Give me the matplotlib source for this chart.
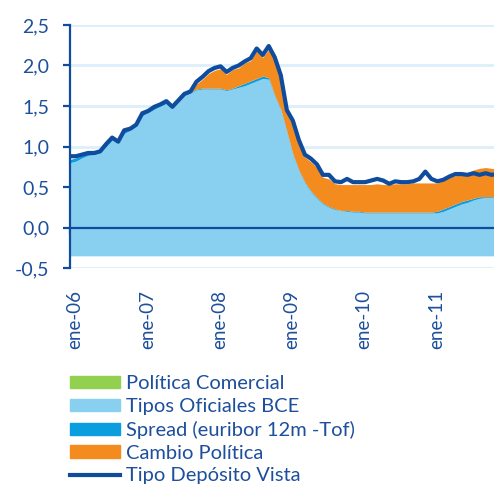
import matplotlib
matplotlib.use("Agg")
import matplotlib.pyplot as plt
import matplotlib.transforms as mtransforms
from matplotlib.patches import Patch
from matplotlib.lines import Line2D
import numpy as np

# monthly data, ene-06 .. dic-11
politica_comercial = -0.35

# level of the Tipos Oficiales BCE area
tipos_bce = [0.80, 0.82, 0.86, 0.89, 0.90, 0.92, 1.00, 1.08, 1.05, 1.16, 1.20, 1.25,
             1.38, 1.42, 1.46, 1.50, 1.53, 1.48, 1.55, 1.63, 1.66, 1.70, 1.71, 1.71,
             1.71, 1.71, 1.69, 1.71, 1.73, 1.75, 1.78, 1.81, 1.84, 1.83, 1.62, 1.45,
             1.18, 0.90, 0.70, 0.55, 0.44, 0.36, 0.29, 0.25, 0.22, 0.21, 0.20, 0.19,
             0.19, 0.18, 0.18, 0.18, 0.18, 0.18, 0.18, 0.18, 0.18, 0.18, 0.18, 0.18,
             0.18, 0.18, 0.20, 0.23, 0.26, 0.29, 0.31, 0.34, 0.36, 0.37, 0.37, 0.36]

spread = [0.04, 0.04, 0.03, 0.02, 0.02, 0.02, 0.02, 0.02, 0.02, 0.02, 0.02, 0.02,
          0.02, 0.02, 0.02, 0.02, 0.02, 0.02, 0.02, 0.02, 0.01, 0.01, 0.01, 0.01,
          0.01, 0.01, 0.01, 0.01, 0.02, 0.03, 0.03, 0.03, 0.03, 0.02, 0.01, 0.01,
          0.01, 0.01, 0.01, 0.01, 0.01, 0.01, 0.01, 0.01, 0.01, 0.00, 0.01, 0.01,
          0.01, 0.01, 0.01, 0.01, 0.01, 0.01, 0.01, 0.01, 0.01, 0.01, 0.01, 0.01,
          0.01, 0.02, 0.03, 0.03, 0.03, 0.03, 0.03, 0.02, 0.02, 0.01, 0.01, 0.01]

cambio_politica = [0.0, 0.0, 0.0, 0.0, 0.0, 0.0, 0.0, 0.0, 0.0, 0.0, 0.0, 0.0,
                   0.0, 0.0, 0.0, 0.0, 0.0, 0.0, 0.0, 0.0, 0.01, 0.06, 0.11, 0.18,
                   0.22, 0.24, 0.19, 0.23, 0.22, 0.25, 0.25, 0.34, 0.23, 0.35, 0.43, 0.38,
                   0.22, 0.37, 0.33, 0.31, 0.36, 0.37, 0.32, 0.34, 0.31, 0.32, 0.32, 0.33,
                   0.33, 0.34, 0.34, 0.35, 0.34, 0.34, 0.35, 0.35, 0.35, 0.36, 0.36, 0.36,
                   0.36, 0.35, 0.35, 0.36, 0.35, 0.33, 0.34, 0.35, 0.35, 0.36, 0.35, 0.35]

tipo_deposito = [0.88, 0.88, 0.90, 0.92, 0.92, 0.94, 1.03, 1.11, 1.06, 1.20, 1.22, 1.27,
                 1.41, 1.44, 1.49, 1.52, 1.56, 1.49, 1.57, 1.65, 1.68, 1.80, 1.86, 1.93,
                 1.97, 1.99, 1.92, 1.97, 2.00, 2.05, 2.09, 2.21, 2.13, 2.24, 2.10, 1.88,
                 1.45, 1.32, 1.08, 0.90, 0.85, 0.78, 0.65, 0.65, 0.57, 0.56, 0.60, 0.56,
                 0.56, 0.56, 0.58, 0.60, 0.58, 0.54, 0.57, 0.56, 0.56, 0.57, 0.60, 0.69,
                 0.60, 0.57, 0.59, 0.63, 0.66, 0.66, 0.65, 0.67, 0.65, 0.67, 0.65, 0.66]

tick_labels = ["ene-06", "ene-07", "ene-08", "ene-09", "ene-10", "ene-11"]

c_text = "#1d4f9c"
c_green = "#92d050"
c_light = "#89cff0"
c_spread = "#0a9ddf"
c_orange = "#f38b1f"
c_line = "#0f4c9e"
c_grid = "#ddeffa"

plt.rcParams["font.family"] = ["Lato", "DejaVu Sans"]

months = np.arange(len(tipos_bce))
top_tipos = np.array(tipos_bce)
top_spread = top_tipos + np.array(spread)
top_cambio = top_spread + np.array(cambio_politica)

fig = plt.figure(figsize=(4.94, 4.86), dpi=100)
ax = fig.add_axes([70 / 494, 1 - 268 / 486, 1 - 70 / 494, 243 / 486])

ax.fill_between(months, 0, politica_comercial, color=c_green, lw=0)
ax.fill_between(months, politica_comercial, top_tipos, color=c_light, lw=0)
ax.fill_between(months, top_tipos, top_spread, color=c_spread, lw=0)
ax.fill_between(months, top_spread, top_cambio, color=c_orange, lw=0)
ax.plot(months, tipo_deposito, color=c_line, lw=3)

ax.set_xlim(0, 70.4)
ax.set_ylim(-0.5, 2.5)
yt = np.arange(-0.5, 2.51, 0.5)
ax.set_yticks(yt)
ax.set_yticklabels([f"{v:.1f}".replace(".", ",") for v in yt])
for v in yt:
    ax.axhline(v, color=c_grid, lw=2, zorder=0)
ax.set_axisbelow(True)

for s in ["top", "right"]:
    ax.spines[s].set_visible(False)
ax.spines["left"].set_color(c_line)
ax.spines["left"].set_linewidth(1.6)
ax.spines["bottom"].set_position(("data", 0))
ax.spines["bottom"].set_color(c_line)
ax.spines["bottom"].set_linewidth(1.6)
ax.spines["bottom"].set_zorder(5)

ax.set_xticks(np.arange(0, 72, 12))
ax.tick_params(axis="x", direction="out", length=4.5, width=1.6, color=c_line,
               labelbottom=False)
ax.tick_params(axis="y", direction="out", length=5, width=1.6, color=c_line,
               labelcolor=c_text, labelsize=14, pad=10)

sec = ax.secondary_xaxis("bottom")
sec.set_xticks(np.arange(0, 72, 12))
sec.set_xticklabels(tick_labels, rotation=90)
sec.tick_params(length=0, pad=16, labelcolor=c_text, labelsize=13.5)
sec.spines["bottom"].set_visible(False)
offset = mtransforms.ScaledTranslation(5 / 100, 0, fig.dpi_scale_trans)
for lab in sec.get_xticklabels():
    lab.set_transform(lab.get_transform() + offset)

handles = [Patch(color=c_green), Patch(color=c_light), Patch(color=c_spread),
           Patch(color=c_orange), Line2D([], [], color=c_line, lw=3)]
labels = ["Política Comercial", "Tipos Oficiales BCE", "Spread (euribor 12m -Tof)",
          "Cambio Política", "Tipo Depósito Vista"]
leg = fig.legend(handles, labels, loc="upper left", bbox_to_anchor=(70 / 494, 1 - 375 / 486),
                 frameon=False, fontsize=14.5, handlelength=2.5, handleheight=0.55,
                 handletextpad=0.3, labelspacing=0.29, borderpad=0, borderaxespad=0)
for t in leg.get_texts():
    t.set_color(c_text)

fig.savefig("out.png", dpi=100)
